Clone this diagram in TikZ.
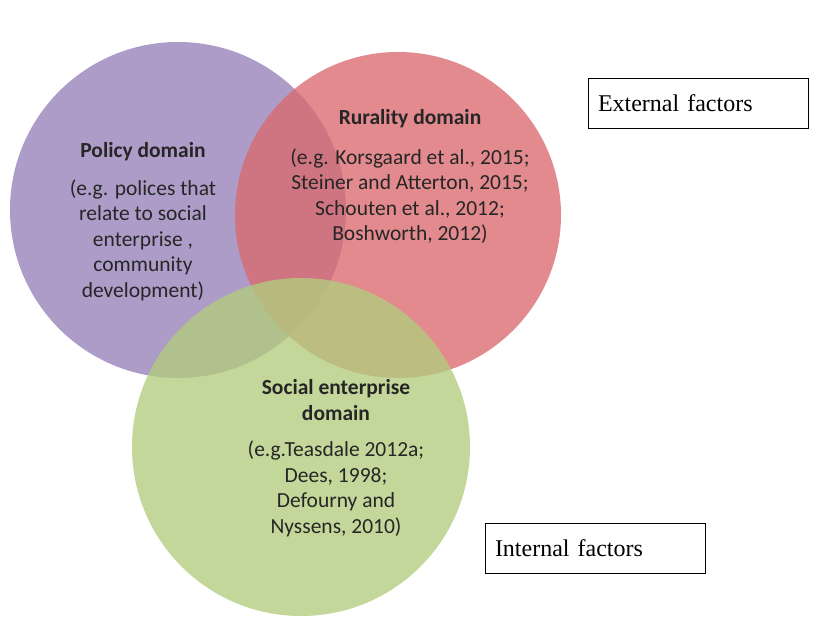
\documentclass[tikz,border=0pt]{standalone}
\usepackage{fontspec}
\setmainfont{Liberation Serif}
\newfontfamily\carlitofont{Carlito}
\begin{document}
\begin{tikzpicture}[x=1pt,y=-1pt,
 circ/.style={circle,minimum size=#1,inner sep=0pt,draw=none,fill opacity=0.78},
 lab/.style={font=\carlitofont\fontsize{21.5}{25.5}\selectfont,align=center,text=black!85},
 box/.style={draw,thick,font=\fontsize{24}{27}\selectfont,minimum width=220,minimum height=50,inner sep=0pt}]
\useasboundingbox (0,0) rectangle (820,629);
\node[circ=336,fill={rgb,255:red,150;green,128;blue,185}] (p) at (178,210) {};
\node[circ=326,fill={rgb,255:red,218;green,105;blue,110}] (r) at (398,215) {};
\node[circ=338,fill={rgb,255:red,178;green,204;blue,125}] (g) at (301,447) {};
\node[lab] (pt) at (143,152) {\bfseries Policy domain};
\node[lab] (pb) at (143,240) {(e.g. polices that\\relate to social\\enterprise ,\\community\\development)};
\node[lab] (rt) at (410,119) {\bfseries Rurality domain};
\node[lab] (rb) at (410,196) {(e.g. Korsgaard et al., 2015;\\Steiner and Atterton, 2015;\\Schouten et al., 2012;\\Boshworth, 2012)};
\node[lab] (gt) at (336,400) {\bfseries Social enterprise\\\bfseries domain};
\node[lab] (gb) at (336,489) {(e.g.Teasdale 2012a;\\Dees, 1998;\\Defourny and\\Nyssens, 2010)};
\node[box,text width=200,align=left] (ext) at (698,103) {External factors};
\node[box,text width=200,align=left] (int) at (595,548) {Internal factors};
\end{tikzpicture}
\end{document}
